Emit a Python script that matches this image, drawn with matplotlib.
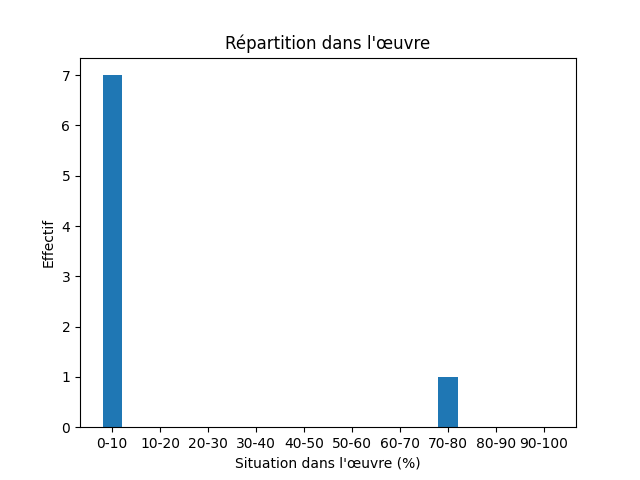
import matplotlib
matplotlib.use("Agg")
import matplotlib.pyplot as plt

categories = ["0-10", "10-20", "20-30", "30-40", "40-50", "50-60", "60-70", "70-80", "80-90", "90-100"]
counts = [7, 0, 0, 0, 0, 0, 0, 1, 0, 0]

fig, ax = plt.subplots(figsize=(6.4, 4.8), dpi=100)
ax.bar(categories, counts, width=0.4)
ax.set_title("Répartition dans l'œuvre")
ax.set_xlabel("Situation dans l'œuvre (%)")
ax.set_ylabel("Effectif")
fig.savefig("out.png")
